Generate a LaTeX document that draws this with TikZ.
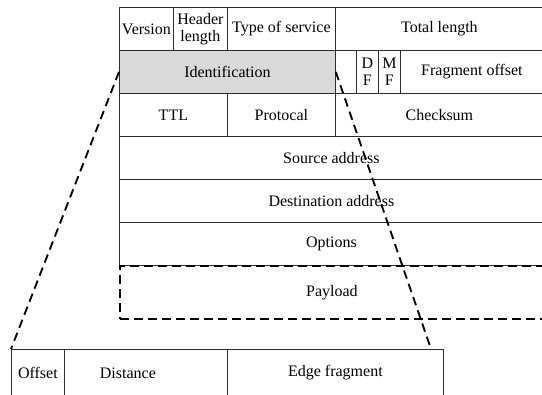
\documentclass[tikz,border=0pt]{standalone}
\usepackage{fontspec}
\setmainfont{Liberation Serif}
\begin{document}
\begin{tikzpicture}[x=0.75pt, y=-0.75pt, line join=round,
    cell/.style={draw=framegray, line width=0.6pt, inner sep=0pt, anchor=north west,
                 align=center, font=\fontsize{12}{12.5}\selectfont},
    size/.style 2 args={minimum width=#1*0.75pt, minimum height=#2*0.75pt},
    zoomline/.style={draw=black, line width=1.4pt, dash pattern=on 6.5pt off 4pt}]

    % Define custom colors
    \definecolor{framegray}{RGB}{45, 45, 45}
    \definecolor{idgray}{RGB}{217, 217, 217}

    \useasboundingbox (0,0) rectangle (542,394);

    % =======================================================
    % IP HEADER
    % =======================================================

    % 1. First row
    \node[cell, size={54}{43}]  (ver)  at (119,7) {Version};
    \node[cell, size={54}{43}]  (hlen) at (173,7) {Header\\length};
    \node[cell, size={108}{43}] (tos)  at (227,7) {Type of service};
    \node[cell, size={208}{43}] (tlen) at (335,7) {Total length};

    % 2. Second row (identification is the zoomed field)
    \node[cell, size={216}{43}, fill=idgray] (ident) at (119,50) {Identification};
    \node[cell, size={21}{43}]  (flag) at (335,50) {};
    \node[cell, size={22}{43}]  (df)   at (356,50) {D\\F};
    \node[cell, size={22}{43}]  (mf)   at (378,50) {M\\F};
    \node[cell, size={143}{43}] (foff) at (400,50) {Fragment offset};

    % 3. Third row
    \node[cell, size={108}{43}] (ttl)   at (119,93) {TTL};
    \node[cell, size={108}{43}] (proto) at (227,93) {Protocal};
    \node[cell, size={208}{43}] (csum)  at (335,93) {Checksum};

    % 4. Full width rows
    \node[cell, size={424}{43}] (src) at (119,136) {Source address};
    \node[cell, size={424}{43}] (dst) at (119,179) {Destination address};
    \node[cell, size={424}{43}] (opt) at (119,222) {Options};

    % 5. Payload (dashed)
    \node[cell, size={424}{53}, zoomline] (load) at (119,265) {Payload};

    % =======================================================
    % IDENTIFICATION FIELD
    % =======================================================
    \node[cell, size={53}{47}]  (offset) at (11,349)  {Offset};
    \node[cell, size={163}{47}] (dist)   at (64,349)  {Distance\hspace*{27pt}};
    \node[cell, size={216}{47}] (edge)   at (227,349) {Edge fragment};

    % 6. Zoom lines
    \coordinate (zoomend) at (431,349);
    \draw[zoomline] (ident.west) -- (offset.north west);
    \draw[zoomline] (ident.east) -- (zoomend);

\end{tikzpicture}
\end{document}
